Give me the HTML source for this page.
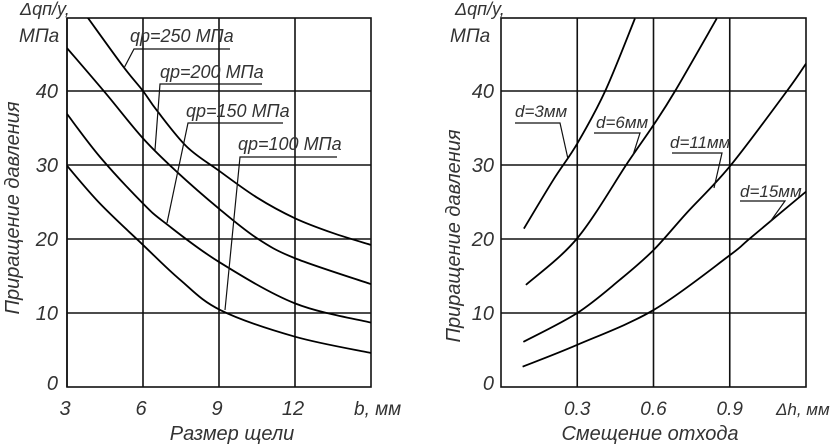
<!DOCTYPE html>
<html><head><meta charset="utf-8">
<style>
html,body{margin:0;padding:0;background:#fff;}
svg{display:block;}
text{font-family:"Liberation Sans",sans-serif;font-style:italic;fill:#333;}
</style></head>
<body>
<svg id="chart" width="837" height="446" viewBox="0 0 837 446"></svg>
<script>
// ---- Left chart data (b, mm vs pressure increase, MPa)
const leftXTicks = [3, 6, 9, 12];
const leftYTicks = [0, 10, 20, 30, 40];
const q250X = [3.8, 5.22, 6, 6.54, 7.72, 8.97, 10.5, 12, 13.5, 15];
const q250Y = [50, 43.3, 40, 37.4, 32.5, 29.3, 25.6, 22.8, 20.8, 19.2];
const q200X = [3, 4.5, 6, 7.33, 9, 10.5, 12, 15];
const q200Y = [45.8, 39.8, 33.6, 29.1, 24.1, 20.1, 17.4, 13.9];
const q150X = [3, 4.3, 6, 6.9, 9, 12, 15];
const q150Y = [36.9, 31.1, 24.8, 22.1, 16.9, 11.3, 8.7];
const q100X = [3, 4.3, 6, 7.46, 9.05, 12, 15];
const q100Y = [29.9, 24.8, 19.2, 14.5, 10.4, 6.8, 4.6];
// ---- Right chart data (Δh, mm vs pressure increase, MPa)
const rightXTicks = [0.3, 0.6, 0.9];
const rightYTicks = [0, 10, 20, 30, 40];
const d3X = [0.09, 0.206, 0.3, 0.41, 0.527];
const d3Y = [21.4, 28, 32.9, 40, 49.8];
const d6X = [0.098, 0.3, 0.5, 0.6, 0.685, 0.849];
const d6Y = [13.8, 20.1, 30.4, 35.4, 40, 49.8];
const d11X = [0.088, 0.3, 0.468, 0.6, 0.73, 0.9, 1.125, 1.2];
const d11Y = [6.1, 10, 14.5, 18.5, 23.5, 29.8, 40, 43.7];
const d15X = [0.085, 0.3, 0.6, 0.9, 0.98, 1.2];
const d15Y = [2.75, 5.7, 10.4, 17.8, 20.1, 26.4];

const NS = "http://www.w3.org/2000/svg";
const svgRoot = document.getElementById('chart');
function mk(tag, attrs, parent){const e=document.createElementNS(NS,tag);for(const k in attrs)e.setAttribute(k,attrs[k]);(parent||svgRoot).appendChild(e);return e;}

const plotTop=18, plotBot=387;
function yScale(v){return plotBot - v*7.4;}
const lx = v => 67 + (v-3)*(304/12);
const rx = v => 501 + v*(305/1.2);

function smooth(pts){
  let d = "M"+pts[0][0]+","+pts[0][1];
  for(let i=0;i<pts.length-1;i++){
    const p0=pts[i-1]||pts[i], p1=pts[i], p2=pts[i+1], p3=pts[i+2]||p2;
    const c1=[p1[0]+(p2[0]-p0[0])/6, p1[1]+(p2[1]-p0[1])/6];
    const c2=[p2[0]-(p3[0]-p1[0])/6, p2[1]-(p3[1]-p1[1])/6];
    d+=" C"+c1[0]+","+c1[1]+" "+c2[0]+","+c2[1]+" "+p2[0]+","+p2[1];
  }
  return d;
}

function frame(x0,x1,xt,xs,yt,name){
  const g=mk('g',{});
  
  
  yt.forEach(v=>{ if(v>0){const l=mk('line',{x1:x0,x2:x1,y1:yScale(v),y2:yScale(v),stroke:'#111','stroke-width':1.6},g);
    
    }});
  xt.forEach(v=>{const l=mk('line',{x1:xs(v),x2:xs(v),y1:plotTop,y2:plotBot,stroke:'#111','stroke-width':1.6},g);
    
    });
  const r=mk('rect',{x:x0,y:plotTop,width:x1-x0,height:plotBot-plotTop,fill:'none',stroke:'#111','stroke-width':1.6},g);
  
  
}
function curve(X,Y,xs,name,x0,x1){
  const cp=mk('clipPath',{id:'c'+name});
  mk('rect',{x:x0,y:plotTop,width:x1-x0,height:plotBot-plotTop},cp);
  const p=mk('path',{d:smooth(X.map((v,i)=>[xs(v),yScale(Y[i])])),fill:'none',stroke:'#000','stroke-width':1.8,'clip-path':'url(#c'+name+')'});
  
  
}
function txt(s,x,y,size,name,anchor,extra){
  const t=mk('text',Object.assign({x:x,y:y,'font-size':size,'text-anchor':anchor||'start'},extra||{}));
  t.textContent=s;
  
  
  return t;
}
function leader(pts,name){
  const p=mk('polyline',{points:pts.map(a=>a.join(',')).join(' '),fill:'none',stroke:'#111','stroke-width':1.2});
  
  
}

// Left chart
frame(67,371,leftXTicks,lx,leftYTicks,'left-chart');
curve(q250X,q250Y,lx,'curve-q250',67,371);
curve(q200X,q200Y,lx,'curve-q200',67,371);
curve(q150X,q150Y,lx,'curve-q150',67,371);
curve(q100X,q100Y,lx,'curve-q100',67,371);
leftYTicks.forEach(v=>txt(String(v),58,yScale(v)+(v===0?3:7),20,'left-y-tick','end'));
leftXTicks.forEach(v=>txt(String(v),lx(v)-2,415,20,'left-x-tick','middle'));
txt('b, мм',354,415,19,'left-x-unit');
txt('Размер щели',232,440,20,'left-x-axis-title','middle');
txt('Приращение давления',0,0,20,'left-y-axis-title','middle',{transform:'translate(19,208) rotate(-90)'});
txt('Δqп/у,',20,15,18,'left-y-unit');
txt('МПа',19,42,19,'left-y-unit-mpa');
txt('qр=250 МПа',130,42,18,'label-q250');
leader([[230,49],[134,49],[124,68]],'leader-q250');
txt('qр=200 МПа',160,78,18,'label-q200');
leader([[262,84],[160,84],[155,150]],'leader-q200');
txt('qр=150 МПа',186,117,18,'label-q150');
leader([[283,123],[188,123],[167,223]],'leader-q150');
txt('qр=100 МПа',238,150,18,'label-q100');
leader([[337,157],[240,157],[225,310]],'leader-q100');

// Right chart
frame(501,806,rightXTicks,rx,rightYTicks,'right-chart');
curve(d3X,d3Y,rx,'curve-d3',501,806);
curve(d6X,d6Y,rx,'curve-d6',501,806);
curve(d11X,d11Y,rx,'curve-d11',501,806);
curve(d15X,d15Y,rx,'curve-d15',501,806);
rightYTicks.forEach(v=>txt(String(v),494,yScale(v)+(v===0?3:7),20,'right-y-tick','end'));
rightXTicks.forEach(v=>txt(String(v),rx(v),415,19,'right-x-tick','middle'));
txt('Δh, мм',776,415,17,'right-x-unit');
txt('Смещение отхода',650,440,20,'right-x-axis-title','middle');
txt('Приращение давления',0,0,20,'right-y-axis-title','middle',{transform:'translate(460,236) rotate(-90)'});
txt('Δqп/у,',455,15,18,'right-y-unit');
txt('МПа',450,42,19,'right-y-unit-mpa');
txt('d=3мм',515,117,17,'label-d3');
leader([[515,123],[560,123],[568,159]],'leader-d3');
txt('d=6мм',596,128,17,'label-d6');
leader([[594,133],[640,133],[633,155]],'leader-d6');
txt('d=11мм',670,148,17,'label-d11');
leader([[672,153],[722,153],[714,188]],'leader-d11');
txt('d=15мм',740,197,17,'label-d15');
leader([[740,201],[785,201],[770,222]],'leader-d15');
</script>
</body></html>
